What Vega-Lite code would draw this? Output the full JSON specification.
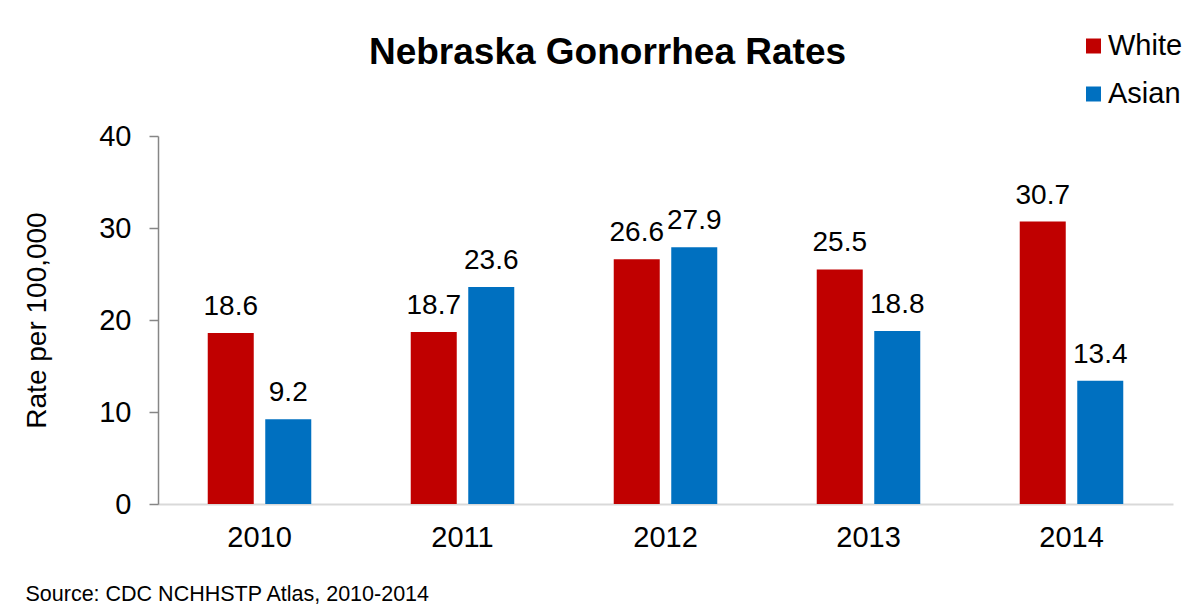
{
  "$schema": "https://vega.github.io/schema/vega-lite/v6.json",
  "width": 1015,
  "height": 368,
  "autosize": {"type": "none"},
  "padding": {"left": 158, "top": 136, "right": 30, "bottom": 100},
  "background": "white",
  "title": {
    "text": "Nebraska Gonorrhea Rates",
    "font": "Liberation Sans",
    "fontSize": 37,
    "fontWeight": "bold",
    "color": "black",
    "anchor": "middle",
    "frame": "group",
    "dx": -58,
    "offset": 0,
    "dy": 69,
    "baseline": "alphabetic"
  },
  "data": {
    "values": [
      {"year": "2010", "race": "White", "rate": 18.6},
      {"year": "2010", "race": "Asian", "rate": 9.2},
      {"year": "2011", "race": "White", "rate": 18.7},
      {"year": "2011", "race": "Asian", "rate": 23.6},
      {"year": "2012", "race": "White", "rate": 26.6},
      {"year": "2012", "race": "Asian", "rate": 27.9},
      {"year": "2013", "race": "White", "rate": 25.5},
      {"year": "2013", "race": "Asian", "rate": 18.8},
      {"year": "2014", "race": "White", "rate": 30.7},
      {"year": "2014", "race": "Asian", "rate": 13.4}
    ]
  },
  "encoding": {
    "x": {
      "field": "year",
      "type": "nominal",
      "scale": {"paddingInner": 0.49, "paddingOuter": 0.245},
      "axis": {
        "labelAngle": 0,
        "ticks": false,
        "domainColor": "#d9d9d9",
        "domainWidth": 2,
        "labelPadding": 19,
        "labelFontSize": 29,
        "labelColor": "black",
        "title": "Source: CDC NCHHSTP Atlas, 2010-2014",
        "titleFontSize": 21.5,
        "titleFontWeight": "normal",
        "titleColor": "black",
        "titleX": -133,
        "titleY": 96,
        "titleAlign": "left",
        "titleAnchor": "start",
        "titleBaseline": "alphabetic"
      }
    },
    "xOffset": {
      "field": "race",
      "type": "nominal",
      "sort": ["White", "Asian"],
      "scale": {"paddingInner": 0.2, "paddingOuter": 0}
    },
    "y": {
      "field": "rate",
      "type": "quantitative",
      "scale": {"domain": [0, 40]},
      "axis": {
        "title": "Rate per 100,000",
        "titleFontSize": 28,
        "titleFontWeight": "normal",
        "titleColor": "black",
        "titlePadding": 47,
        "values": [0, 10, 20, 30, 40],
        "grid": false,
        "domainColor": "#868686",
        "domainWidth": 1.5,
        "tickColor": "#868686",
        "tickWidth": 1.5,
        "tickSize": 9,
        "labelFontSize": 29,
        "labelColor": "black",
        "labelPadding": 18
      }
    }
  },
  "layer": [
    {
      "mark": {"type": "bar"},
      "encoding": {
        "color": {
          "field": "race",
          "type": "nominal",
          "scale": {"domain": ["White", "Asian"], "range": ["#c00000", "#0070c0"]},
          "legend": {
            "title": null,
            "orient": "none",
            "legendX": 921,
            "legendY": -104.5,
            "padding": 0,
            "symbolType": "square",
            "symbolSize": 225,
            "symbolStrokeWidth": 0,
            "symbolOpacity": 1,
            "labelFontSize": 29,
            "labelColor": "black",
            "labelOffset": 0,
            "rowPadding": 18
          }
        }
      }
    },
    {
      "mark": {"type": "text", "dy": -18, "baseline": "alphabetic", "fontSize": 28, "color": "black"},
      "encoding": {
        "text": {"field": "rate", "type": "quantitative", "format": ".1f"}
      }
    }
  ],
  "config": {
    "font": "Liberation Sans",
    "view": {"stroke": null}
  }
}
